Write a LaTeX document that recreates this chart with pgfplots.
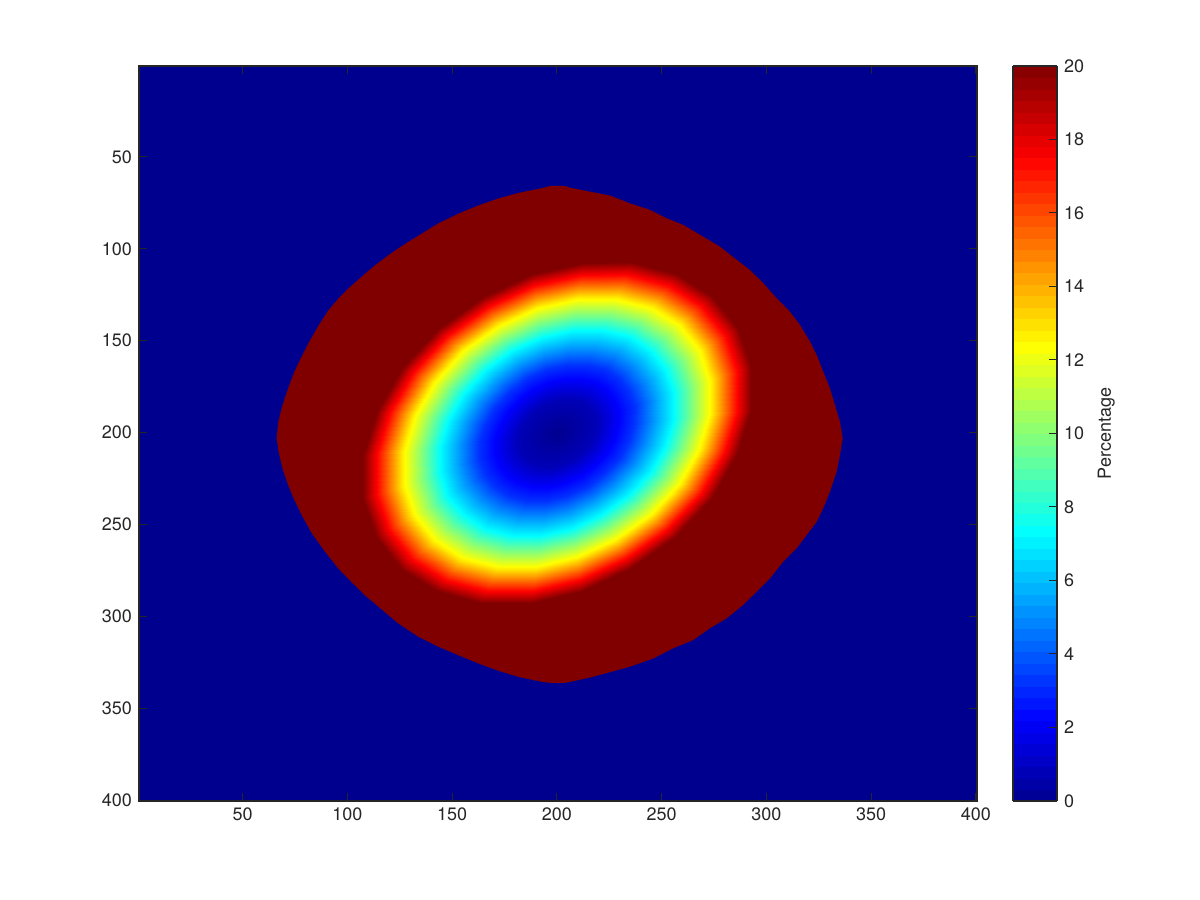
\documentclass[border=0pt]{standalone}
\usepackage{fontspec}
\setmainfont{TeX Gyre Heros}
\usepackage{pgfplots}
\usepackage{pgfplotstable}
\pgfplotsset{compat=1.18}
\definecolor{jetlo}{RGB}{0,0,143}
\definecolor{jethi}{RGB}{128,0,0}
\definecolor{axgray}{RGB}{38,38,38}

% elliptical polar grid: one scanline per angle, radius 0, .2, .4, .6, .8, 1
\pgfplotstableread{
x y v
200.00 200.00 0
214.85 185.15 0.8
229.70 170.30 3.2
244.55 155.45 7.2
259.40 140.60 12.8
274.25 125.75 20

200.00 200.00 0
217.27 188.59 0.8
234.54 177.17 3.2
251.81 165.76 7.2
269.08 154.34 12.8
286.35 142.93 20

200.00 200.00 0
218.52 192.80 0.8
237.03 185.59 3.2
255.55 178.39 7.2
274.06 171.18 12.8
292.58 163.98 20

200.00 200.00 0
218.50 197.50 0.8
237.00 195.00 3.2
255.50 192.50 7.2
274.00 190.00 12.8
292.50 187.50 20

200.00 200.00 0
217.22 202.37 0.8
234.44 204.75 3.2
251.67 207.12 7.2
268.89 209.50 12.8
286.11 211.87 20

200.00 200.00 0
214.77 207.08 0.8
229.54 214.17 3.2
244.32 221.25 7.2
259.09 228.34 12.8
273.86 235.42 20

200.00 200.00 0
211.31 211.31 0.8
222.63 222.63 3.2
233.94 233.94 7.2
245.26 245.26 12.8
256.57 256.57 20

200.00 200.00 0
207.08 214.77 0.8
214.17 229.54 3.2
221.25 244.32 7.2
228.34 259.09 12.8
235.42 273.86 20

200.00 200.00 0
202.37 217.22 0.8
204.75 234.44 3.2
207.12 251.67 7.2
209.50 268.89 12.8
211.87 286.11 20

200.00 200.00 0
197.50 218.50 0.8
195.00 237.00 3.2
192.50 255.50 7.2
190.00 274.00 12.8
187.50 292.50 20

200.00 200.00 0
192.80 218.52 0.8
185.59 237.03 3.2
178.39 255.55 7.2
171.18 274.06 12.8
163.98 292.58 20

200.00 200.00 0
188.59 217.27 0.8
177.17 234.54 3.2
165.76 251.81 7.2
154.34 269.08 12.8
142.93 286.35 20

200.00 200.00 0
185.15 214.85 0.8
170.30 229.70 3.2
155.45 244.55 7.2
140.60 259.40 12.8
125.75 274.25 20

200.00 200.00 0
182.73 211.41 0.8
165.46 222.83 3.2
148.19 234.24 7.2
130.92 245.66 12.8
113.65 257.07 20

200.00 200.00 0
181.48 207.20 0.8
162.97 214.41 3.2
144.45 221.61 7.2
125.94 228.82 12.8
107.42 236.02 20

200.00 200.00 0
181.50 202.50 0.8
163.00 205.00 3.2
144.50 207.50 7.2
126.00 210.00 12.8
107.50 212.50 20

200.00 200.00 0
182.78 197.63 0.8
165.56 195.25 3.2
148.33 192.88 7.2
131.11 190.50 12.8
113.89 188.13 20

200.00 200.00 0
185.23 192.92 0.8
170.46 185.83 3.2
155.68 178.75 7.2
140.91 171.66 12.8
126.14 164.58 20

200.00 200.00 0
188.69 188.69 0.8
177.37 177.37 3.2
166.06 166.06 7.2
154.74 154.74 12.8
143.43 143.43 20

200.00 200.00 0
192.92 185.23 0.8
185.83 170.46 3.2
178.75 155.68 7.2
171.66 140.91 12.8
164.58 126.14 20

200.00 200.00 0
197.63 182.78 0.8
195.25 165.56 3.2
192.88 148.33 7.2
190.50 131.11 12.8
188.13 113.89 20

200.00 200.00 0
202.50 181.50 0.8
205.00 163.00 3.2
207.50 144.50 7.2
210.00 126.00 12.8
212.50 107.50 20

200.00 200.00 0
207.20 181.48 0.8
214.41 162.97 3.2
221.61 144.45 7.2
228.82 125.94 12.8
236.02 107.42 20

200.00 200.00 0
211.41 182.73 0.8
222.83 165.46 3.2
234.24 148.19 7.2
245.66 130.92 12.8
257.07 113.65 20

200.00 200.00 0
214.85 185.15 0.8
229.70 170.30 3.2
244.55 155.45 7.2
259.40 140.60 12.8
274.25 125.75 20
}\ellipsegrid

\begin{document}
\begin{tikzpicture}
\path[use as bounding box] (-69.5pt,-49.5pt) rectangle (530.5pt,400.5pt);
\begin{axis}[
  at={(0pt,0pt)}, anchor=south west,
  scale only axis, width=419pt, height=367.5pt,
  xmin=0.5, xmax=400.5, ymin=0.5, ymax=400.5,
  y dir=reverse, enlargelimits=false, axis on top,
  xtick={50,100,...,400}, ytick={50,100,...,400},
  tick align=inside, major tick length=4pt,
  axis line style={axgray, line width=0.6pt},
  tick style={axgray, line width=0.5pt},
  ticklabel style={font=\fontsize{9}{10}\selectfont, text=axgray},
  /pgf/number format/assume math mode=true,
  axis background/.style={fill=jetlo},
  colormap={mjet}{rgb255(0pt)=(0,0,143); rgb255(7pt)=(0,0,255); rgb255(23pt)=(0,255,255); rgb255(39pt)=(255,255,0); rgb255(55pt)=(255,0,0); rgb255(63pt)=(128,0,0)},
  point meta min=0, point meta max=20,
  colorbar sampled,
  colorbar shift/.style={xshift=18pt},
  colorbar style={
    at={(parent axis.north east)}, anchor=north west,
    width=22pt, samples=65,
    ytick={0,2,...,20},
    tick align=inside, major tick length=4pt,
    ytick pos=right, yticklabel pos=right,
    axis line style={axgray, line width=0.6pt},
    tick style={axgray, line width=0.5pt},
    ticklabel style={font=\fontsize{9}{10}\selectfont, text=axgray},
    /pgf/number format/assume math mode=true,
    ylabel={Percentage},
    ylabel style={font=\fontsize{9}{10}\selectfont, text=axgray},
  },
]
\addplot[draw=none, fill=jethi] coordinates {
(196.7,65.8) (203.8,65.8) (206.2,66.7) (215.8,68.9) (225.3,71.0) (234.8,75.2)
(244.4,78.8) (252.4,83.4) (260.3,87.0) (269.8,93.4) (277.8,98.8) (285.8,106.0)
(292.1,111.5) (298.5,118.7) (304.9,126.9) (311.2,134.2) (316.0,141.4)
(320.8,150.5) (324.0,157.8) (327.1,166.8) (330.3,175.9) (332.7,185.0)
(335.1,194.1) (336.4,203.1) (335.1,212.2) (333.5,221.3) (330.3,232.2)
(327.1,241.2) (324.0,248.5) (319.2,255.7) (314.4,263.0) (308.0,270.3)
(301.7,279.3) (295.3,286.6) (288.9,293.8) (281.0,301.1) (273.0,306.5)
(265.1,312.9) (255.5,317.4) (246.0,322.9) (234.8,327.4) (225.3,330.4)
(215.8,333.3) (206.2,335.7) (203.8,336.2) (196.7,336.2)
(192.7,335.6) (181.5,332.9) (172.0,329.6) (162.4,325.6) (152.9,321.1)
(143.3,316.5) (133.8,311.1) (124.2,303.8) (116.3,296.2) (108.4,288.6)
(102.0,281.4) (95.6,273.9) (89.3,264.8) (82.9,254.6) (78.4,245.4)
(74.6,236.6) (71.7,228.5) (69.0,219.6) (67.2,210.8) (66.2,203.1)
(67.0,194.1) (69.0,185.0) (71.7,175.9) (74.7,166.8) (78.1,158.7)
(81.8,150.5) (86.3,141.6) (90.8,133.6) (95.8,126.9) (101.0,121.0)
(106.8,115.1) (113.3,108.8) (120.6,102.6) (127.4,97.4) (134.5,92.4)
(143.3,86.2) (152.9,80.9) (162.4,76.4) (172.0,72.6) (181.5,69.6)
(192.7,67.0)
} -- cycle;
\addplot[surf, shader=interp, mesh/cols=6, point meta=\thisrow{v}]
  table[x=x, y=y] {\ellipsegrid};
\end{axis}
\end{tikzpicture}
\end{document}
